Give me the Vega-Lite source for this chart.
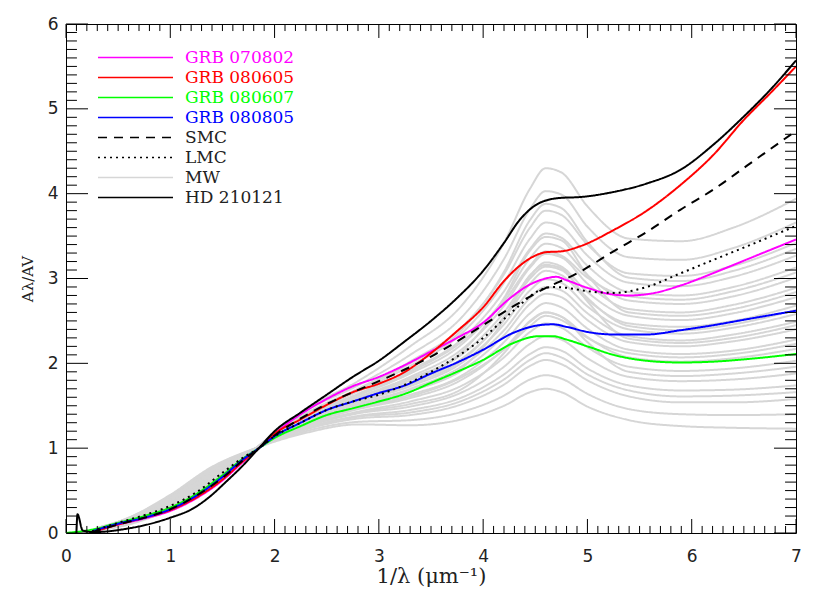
{
  "$schema": "https://vega.github.io/schema/vega-lite/v6.json",
  "width": 730,
  "height": 509,
  "autosize": {"type": "none"},
  "padding": {"left": 66, "top": 24, "right": 34, "bottom": 60},
  "background": "white",
  "config": {
    "view": {"stroke": "black", "strokeWidth": 1},
    "legend": {
      "title": null, "orient": "none", "legendX": 61, "legendY": 25,
      "symbolType": "M-5,0H5", "symbolSize": 225, "symbolStrokeWidth": 1.6,
      "labelFont": "DejaVu Serif", "labelFontSize": 17, "labelOffset": 41,
      "rowPadding": 2, "padding": 0, "labelLimit": 0
    }
  },
  "datasets": {
    "xmaj": [{"v":0},{"v":1},{"v":2},{"v":3},{"v":4},{"v":5},{"v":6},{"v":7}],
    "xmin": [{"v":0.1},{"v":0.2},{"v":0.3},{"v":0.4},{"v":0.5},{"v":0.6},{"v":0.7},{"v":0.8},{"v":0.9},{"v":1.1},{"v":1.2},{"v":1.3},{"v":1.4},{"v":1.5},{"v":1.6},{"v":1.7},{"v":1.8},{"v":1.9},{"v":2.1},{"v":2.2},{"v":2.3},{"v":2.4},{"v":2.5},{"v":2.6},{"v":2.7},{"v":2.8},{"v":2.9},{"v":3.1},{"v":3.2},{"v":3.3},{"v":3.4},{"v":3.5},{"v":3.6},{"v":3.7},{"v":3.8},{"v":3.9},{"v":4.1},{"v":4.2},{"v":4.3},{"v":4.4},{"v":4.5},{"v":4.6},{"v":4.7},{"v":4.8},{"v":4.9},{"v":5.1},{"v":5.2},{"v":5.3},{"v":5.4},{"v":5.5},{"v":5.6},{"v":5.7},{"v":5.8},{"v":5.9},{"v":6.1},{"v":6.2},{"v":6.3},{"v":6.4},{"v":6.5},{"v":6.6},{"v":6.7},{"v":6.8},{"v":6.9}],
    "ymaj": [{"v":0},{"v":1},{"v":2},{"v":3},{"v":4},{"v":5},{"v":6}],
    "ymin": [{"v":0.1},{"v":0.2},{"v":0.3},{"v":0.4},{"v":0.5},{"v":0.6},{"v":0.7},{"v":0.8},{"v":0.9},{"v":1.1},{"v":1.2},{"v":1.3},{"v":1.4},{"v":1.5},{"v":1.6},{"v":1.7},{"v":1.8},{"v":1.9},{"v":2.1},{"v":2.2},{"v":2.3},{"v":2.4},{"v":2.5},{"v":2.6},{"v":2.7},{"v":2.8},{"v":2.9},{"v":3.1},{"v":3.2},{"v":3.3},{"v":3.4},{"v":3.5},{"v":3.6},{"v":3.7},{"v":3.8},{"v":3.9},{"v":4.1},{"v":4.2},{"v":4.3},{"v":4.4},{"v":4.5},{"v":4.6},{"v":4.7},{"v":4.8},{"v":4.9},{"v":5.1},{"v":5.2},{"v":5.3},{"v":5.4},{"v":5.5},{"v":5.6},{"v":5.7},{"v":5.8},{"v":5.9}],
    "mw": [
      {"s":"MW","c":"m01","x":0.3,"y":0.03},{"s":"MW","c":"m01","x":0.6,"y":0.10},{"s":"MW","c":"m01","x":1.0,"y":0.28},{"s":"MW","c":"m01","x":1.4,"y":0.56},{"s":"MW","c":"m01","x":1.82,"y":1},{"s":"MW","c":"m01","x":2.3,"y":1.46},{"s":"MW","c":"m01","x":2.8,"y":1.79},{"s":"MW","c":"m01","x":3.3,"y":2.20},{"s":"MW","c":"m01","x":3.8,"y":2.69},{"s":"MW","c":"m01","x":4.2,"y":3.42},{"s":"MW","c":"m01","x":4.45,"y":4.06},{"s":"MW","c":"m01","x":4.6,"y":4.30},{"s":"MW","c":"m01","x":4.75,"y":4.25},{"s":"MW","c":"m01","x":5.0,"y":3.85},{"s":"MW","c":"m01","x":5.4,"y":3.47},{"s":"MW","c":"m01","x":5.9,"y":3.44},{"s":"MW","c":"m01","x":6.4,"y":3.60},{"s":"MW","c":"m01","x":7.0,"y":3.94},
      {"s":"MW","c":"m02","x":0.3,"y":0.03},{"s":"MW","c":"m02","x":0.6,"y":0.11},{"s":"MW","c":"m02","x":1.0,"y":0.30},{"s":"MW","c":"m02","x":1.4,"y":0.58},{"s":"MW","c":"m02","x":1.82,"y":1},{"s":"MW","c":"m02","x":2.3,"y":1.44},{"s":"MW","c":"m02","x":2.8,"y":1.74},{"s":"MW","c":"m02","x":3.3,"y":2.10},{"s":"MW","c":"m02","x":3.8,"y":2.55},{"s":"MW","c":"m02","x":4.2,"y":3.23},{"s":"MW","c":"m02","x":4.45,"y":3.82},{"s":"MW","c":"m02","x":4.6,"y":4.03},{"s":"MW","c":"m02","x":4.75,"y":3.99},{"s":"MW","c":"m02","x":5.0,"y":3.61},{"s":"MW","c":"m02","x":5.4,"y":3.25},{"s":"MW","c":"m02","x":5.9,"y":3.22},{"s":"MW","c":"m02","x":6.4,"y":3.36},{"s":"MW","c":"m02","x":7.0,"y":3.66},
      {"s":"MW","c":"m03","x":0.3,"y":0.04},{"s":"MW","c":"m03","x":0.6,"y":0.12},{"s":"MW","c":"m03","x":1.0,"y":0.31},{"s":"MW","c":"m03","x":1.4,"y":0.60},{"s":"MW","c":"m03","x":1.82,"y":1},{"s":"MW","c":"m03","x":2.3,"y":1.41},{"s":"MW","c":"m03","x":2.8,"y":1.70},{"s":"MW","c":"m03","x":3.3,"y":2.02},{"s":"MW","c":"m03","x":3.8,"y":2.43},{"s":"MW","c":"m03","x":4.2,"y":3.05},{"s":"MW","c":"m03","x":4.45,"y":3.60},{"s":"MW","c":"m03","x":4.6,"y":3.80},{"s":"MW","c":"m03","x":4.75,"y":3.75},{"s":"MW","c":"m03","x":5.0,"y":3.40},{"s":"MW","c":"m03","x":5.4,"y":3.06},{"s":"MW","c":"m03","x":5.9,"y":3.03},{"s":"MW","c":"m03","x":6.4,"y":3.15},{"s":"MW","c":"m03","x":7.0,"y":3.42},
      {"s":"MW","c":"a01","x":0.3,"y":0.04},{"s":"MW","c":"a01","x":0.6,"y":0.12},{"s":"MW","c":"a01","x":1.0,"y":0.32},{"s":"MW","c":"a01","x":1.4,"y":0.61},{"s":"MW","c":"a01","x":1.82,"y":1},{"s":"MW","c":"a01","x":2.3,"y":1.40},{"s":"MW","c":"a01","x":2.8,"y":1.69},{"s":"MW","c":"a01","x":3.3,"y":2.00},{"s":"MW","c":"a01","x":3.8,"y":2.40},{"s":"MW","c":"a01","x":4.2,"y":3.08},{"s":"MW","c":"a01","x":4.45,"y":3.69},{"s":"MW","c":"a01","x":4.6,"y":3.88},{"s":"MW","c":"a01","x":4.75,"y":3.83},{"s":"MW","c":"a01","x":5.0,"y":3.43},{"s":"MW","c":"a01","x":5.4,"y":3.01},{"s":"MW","c":"a01","x":5.9,"y":2.97},{"s":"MW","c":"a01","x":6.4,"y":3.09},{"s":"MW","c":"a01","x":7.0,"y":3.35},
      {"s":"MW","c":"m04","x":0.3,"y":0.04},{"s":"MW","c":"m04","x":0.6,"y":0.12},{"s":"MW","c":"m04","x":1.0,"y":0.32},{"s":"MW","c":"m04","x":1.4,"y":0.61},{"s":"MW","c":"m04","x":1.82,"y":1},{"s":"MW","c":"m04","x":2.3,"y":1.39},{"s":"MW","c":"m04","x":2.8,"y":1.67},{"s":"MW","c":"m04","x":3.3,"y":1.97},{"s":"MW","c":"m04","x":3.8,"y":2.36},{"s":"MW","c":"m04","x":4.2,"y":2.95},{"s":"MW","c":"m04","x":4.45,"y":3.47},{"s":"MW","c":"m04","x":4.6,"y":3.66},{"s":"MW","c":"m04","x":4.75,"y":3.61},{"s":"MW","c":"m04","x":5.0,"y":3.27},{"s":"MW","c":"m04","x":5.4,"y":2.95},{"s":"MW","c":"m04","x":5.9,"y":2.91},{"s":"MW","c":"m04","x":6.4,"y":3.02},{"s":"MW","c":"m04","x":7.0,"y":3.27},
      {"s":"MW","c":"m05","x":0.3,"y":0.04},{"s":"MW","c":"m05","x":0.6,"y":0.12},{"s":"MW","c":"m05","x":1.0,"y":0.33},{"s":"MW","c":"m05","x":1.4,"y":0.63},{"s":"MW","c":"m05","x":1.82,"y":1},{"s":"MW","c":"m05","x":2.3,"y":1.38},{"s":"MW","c":"m05","x":2.8,"y":1.64},{"s":"MW","c":"m05","x":3.3,"y":1.92},{"s":"MW","c":"m05","x":3.8,"y":2.29},{"s":"MW","c":"m05","x":4.2,"y":2.85},{"s":"MW","c":"m05","x":4.45,"y":3.35},{"s":"MW","c":"m05","x":4.6,"y":3.53},{"s":"MW","c":"m05","x":4.75,"y":3.48},{"s":"MW","c":"m05","x":5.0,"y":3.15},{"s":"MW","c":"m05","x":5.4,"y":2.84},{"s":"MW","c":"m05","x":5.9,"y":2.80},{"s":"MW","c":"m05","x":6.4,"y":2.90},{"s":"MW","c":"m05","x":7.0,"y":3.13},
      {"s":"MW","c":"a02","x":0.3,"y":0.04},{"s":"MW","c":"a02","x":0.6,"y":0.13},{"s":"MW","c":"a02","x":1.0,"y":0.34},{"s":"MW","c":"a02","x":1.4,"y":0.64},{"s":"MW","c":"a02","x":1.82,"y":1},{"s":"MW","c":"a02","x":2.3,"y":1.38},{"s":"MW","c":"a02","x":2.8,"y":1.63},{"s":"MW","c":"a02","x":3.3,"y":1.90},{"s":"MW","c":"a02","x":3.8,"y":2.26},{"s":"MW","c":"a02","x":4.2,"y":2.73},{"s":"MW","c":"a02","x":4.45,"y":3.15},{"s":"MW","c":"a02","x":4.6,"y":3.32},{"s":"MW","c":"a02","x":4.75,"y":3.27},{"s":"MW","c":"a02","x":5.0,"y":3.01},{"s":"MW","c":"a02","x":5.4,"y":2.79},{"s":"MW","c":"a02","x":5.9,"y":2.75},{"s":"MW","c":"a02","x":6.4,"y":2.85},{"s":"MW","c":"a02","x":7.0,"y":3.07},
      {"s":"MW","c":"m06","x":0.3,"y":0.04},{"s":"MW","c":"m06","x":0.6,"y":0.13},{"s":"MW","c":"m06","x":1.0,"y":0.34},{"s":"MW","c":"m06","x":1.4,"y":0.64},{"s":"MW","c":"m06","x":1.82,"y":1},{"s":"MW","c":"m06","x":2.3,"y":1.37},{"s":"MW","c":"m06","x":2.8,"y":1.62},{"s":"MW","c":"m06","x":3.3,"y":1.88},{"s":"MW","c":"m06","x":3.8,"y":2.23},{"s":"MW","c":"m06","x":4.2,"y":2.76},{"s":"MW","c":"m06","x":4.45,"y":3.24},{"s":"MW","c":"m06","x":4.6,"y":3.41},{"s":"MW","c":"m06","x":4.75,"y":3.36},{"s":"MW","c":"m06","x":5.0,"y":3.04},{"s":"MW","c":"m06","x":5.4,"y":2.74},{"s":"MW","c":"m06","x":5.9,"y":2.70},{"s":"MW","c":"m06","x":6.4,"y":2.79},{"s":"MW","c":"m06","x":7.0,"y":3.01},
      {"s":"MW","c":"m07","x":0.3,"y":0.04},{"s":"MW","c":"m07","x":0.6,"y":0.13},{"s":"MW","c":"m07","x":1.0,"y":0.35},{"s":"MW","c":"m07","x":1.4,"y":0.65},{"s":"MW","c":"m07","x":1.82,"y":1},{"s":"MW","c":"m07","x":2.3,"y":1.35},{"s":"MW","c":"m07","x":2.8,"y":1.60},{"s":"MW","c":"m07","x":3.3,"y":1.84},{"s":"MW","c":"m07","x":3.8,"y":2.17},{"s":"MW","c":"m07","x":4.2,"y":2.68},{"s":"MW","c":"m07","x":4.45,"y":3.13},{"s":"MW","c":"m07","x":4.6,"y":3.29},{"s":"MW","c":"m07","x":4.75,"y":3.25},{"s":"MW","c":"m07","x":5.0,"y":2.94},{"s":"MW","c":"m07","x":5.4,"y":2.64},{"s":"MW","c":"m07","x":5.9,"y":2.60},{"s":"MW","c":"m07","x":6.4,"y":2.69},{"s":"MW","c":"m07","x":7.0,"y":2.89},
      {"s":"MW","c":"a03","x":0.3,"y":0.04},{"s":"MW","c":"a03","x":0.6,"y":0.13},{"s":"MW","c":"a03","x":1.0,"y":0.35},{"s":"MW","c":"a03","x":1.4,"y":0.65},{"s":"MW","c":"a03","x":1.82,"y":1},{"s":"MW","c":"a03","x":2.3,"y":1.35},{"s":"MW","c":"a03","x":2.8,"y":1.59},{"s":"MW","c":"a03","x":3.3,"y":1.82},{"s":"MW","c":"a03","x":3.8,"y":2.14},{"s":"MW","c":"a03","x":4.2,"y":2.77},{"s":"MW","c":"a03","x":4.45,"y":3.33},{"s":"MW","c":"a03","x":4.6,"y":3.49},{"s":"MW","c":"a03","x":4.75,"y":3.45},{"s":"MW","c":"a03","x":5.0,"y":3.04},{"s":"MW","c":"a03","x":5.4,"y":2.60},{"s":"MW","c":"a03","x":5.9,"y":2.56},{"s":"MW","c":"a03","x":6.4,"y":2.64},{"s":"MW","c":"a03","x":7.0,"y":2.84},
      {"s":"MW","c":"m08","x":0.3,"y":0.04},{"s":"MW","c":"m08","x":0.6,"y":0.13},{"s":"MW","c":"m08","x":1.0,"y":0.35},{"s":"MW","c":"m08","x":1.4,"y":0.65},{"s":"MW","c":"m08","x":1.82,"y":1},{"s":"MW","c":"m08","x":2.3,"y":1.34},{"s":"MW","c":"m08","x":2.8,"y":1.57},{"s":"MW","c":"m08","x":3.3,"y":1.80},{"s":"MW","c":"m08","x":3.8,"y":2.11},{"s":"MW","c":"m08","x":4.2,"y":2.60},{"s":"MW","c":"m08","x":4.45,"y":3.03},{"s":"MW","c":"m08","x":4.6,"y":3.19},{"s":"MW","c":"m08","x":4.75,"y":3.14},{"s":"MW","c":"m08","x":5.0,"y":2.84},{"s":"MW","c":"m08","x":5.4,"y":2.56},{"s":"MW","c":"m08","x":5.9,"y":2.51},{"s":"MW","c":"m08","x":6.4,"y":2.59},{"s":"MW","c":"m08","x":7.0,"y":2.78},
      {"s":"MW","c":"m09","x":0.3,"y":0.04},{"s":"MW","c":"m09","x":0.6,"y":0.14},{"s":"MW","c":"m09","x":1.0,"y":0.36},{"s":"MW","c":"m09","x":1.4,"y":0.66},{"s":"MW","c":"m09","x":1.82,"y":1},{"s":"MW","c":"m09","x":2.3,"y":1.33},{"s":"MW","c":"m09","x":2.8,"y":1.56},{"s":"MW","c":"m09","x":3.3,"y":1.77},{"s":"MW","c":"m09","x":3.8,"y":2.06},{"s":"MW","c":"m09","x":4.2,"y":2.53},{"s":"MW","c":"m09","x":4.45,"y":2.94},{"s":"MW","c":"m09","x":4.6,"y":3.09},{"s":"MW","c":"m09","x":4.75,"y":3.04},{"s":"MW","c":"m09","x":5.0,"y":2.75},{"s":"MW","c":"m09","x":5.4,"y":2.47},{"s":"MW","c":"m09","x":5.9,"y":2.43},{"s":"MW","c":"m09","x":6.4,"y":2.50},{"s":"MW","c":"m09","x":7.0,"y":2.68},
      {"s":"MW","c":"a04","x":0.3,"y":0.05},{"s":"MW","c":"a04","x":0.6,"y":0.14},{"s":"MW","c":"a04","x":1.0,"y":0.37},{"s":"MW","c":"a04","x":1.4,"y":0.67},{"s":"MW","c":"a04","x":1.82,"y":1},{"s":"MW","c":"a04","x":2.3,"y":1.33},{"s":"MW","c":"a04","x":2.8,"y":1.55},{"s":"MW","c":"a04","x":3.3,"y":1.75},{"s":"MW","c":"a04","x":3.8,"y":2.04},{"s":"MW","c":"a04","x":4.2,"y":2.55},{"s":"MW","c":"a04","x":4.45,"y":3.00},{"s":"MW","c":"a04","x":4.6,"y":3.14},{"s":"MW","c":"a04","x":4.75,"y":3.10},{"s":"MW","c":"a04","x":5.0,"y":2.77},{"s":"MW","c":"a04","x":5.4,"y":2.44},{"s":"MW","c":"a04","x":5.9,"y":2.39},{"s":"MW","c":"a04","x":6.4,"y":2.46},{"s":"MW","c":"a04","x":7.0,"y":2.63},
      {"s":"MW","c":"m10","x":0.3,"y":0.05},{"s":"MW","c":"m10","x":0.6,"y":0.14},{"s":"MW","c":"m10","x":1.0,"y":0.37},{"s":"MW","c":"m10","x":1.4,"y":0.67},{"s":"MW","c":"m10","x":1.82,"y":1},{"s":"MW","c":"m10","x":2.3,"y":1.32},{"s":"MW","c":"m10","x":2.8,"y":1.54},{"s":"MW","c":"m10","x":3.3,"y":1.73},{"s":"MW","c":"m10","x":3.8,"y":2.01},{"s":"MW","c":"m10","x":4.2,"y":2.46},{"s":"MW","c":"m10","x":4.45,"y":2.86},{"s":"MW","c":"m10","x":4.6,"y":2.99},{"s":"MW","c":"m10","x":4.75,"y":2.95},{"s":"MW","c":"m10","x":5.0,"y":2.67},{"s":"MW","c":"m10","x":5.4,"y":2.40},{"s":"MW","c":"m10","x":5.9,"y":2.35},{"s":"MW","c":"m10","x":6.4,"y":2.42},{"s":"MW","c":"m10","x":7.0,"y":2.58},
      {"s":"MW","c":"m11","x":0.3,"y":0.05},{"s":"MW","c":"m11","x":0.6,"y":0.14},{"s":"MW","c":"m11","x":1.0,"y":0.37},{"s":"MW","c":"m11","x":1.4,"y":0.68},{"s":"MW","c":"m11","x":1.82,"y":1},{"s":"MW","c":"m11","x":2.3,"y":1.31},{"s":"MW","c":"m11","x":2.8,"y":1.52},{"s":"MW","c":"m11","x":3.3,"y":1.70},{"s":"MW","c":"m11","x":3.8,"y":1.97},{"s":"MW","c":"m11","x":4.2,"y":2.39},{"s":"MW","c":"m11","x":4.45,"y":2.77},{"s":"MW","c":"m11","x":4.6,"y":2.90},{"s":"MW","c":"m11","x":4.75,"y":2.86},{"s":"MW","c":"m11","x":5.0,"y":2.59},{"s":"MW","c":"m11","x":5.4,"y":2.32},{"s":"MW","c":"m11","x":5.9,"y":2.27},{"s":"MW","c":"m11","x":6.4,"y":2.34},{"s":"MW","c":"m11","x":7.0,"y":2.49},
      {"s":"MW","c":"a05","x":0.3,"y":0.05},{"s":"MW","c":"a05","x":0.6,"y":0.15},{"s":"MW","c":"a05","x":1.0,"y":0.38},{"s":"MW","c":"a05","x":1.4,"y":0.69},{"s":"MW","c":"a05","x":1.82,"y":1},{"s":"MW","c":"a05","x":2.3,"y":1.31},{"s":"MW","c":"a05","x":2.8,"y":1.51},{"s":"MW","c":"a05","x":3.3,"y":1.69},{"s":"MW","c":"a05","x":3.8,"y":1.95},{"s":"MW","c":"a05","x":4.2,"y":2.51},{"s":"MW","c":"a05","x":4.45,"y":3.04},{"s":"MW","c":"a05","x":4.6,"y":3.16},{"s":"MW","c":"a05","x":4.75,"y":3.12},{"s":"MW","c":"a05","x":5.0,"y":2.73},{"s":"MW","c":"a05","x":5.4,"y":2.29},{"s":"MW","c":"a05","x":5.9,"y":2.24},{"s":"MW","c":"a05","x":6.4,"y":2.30},{"s":"MW","c":"a05","x":7.0,"y":2.45},
      {"s":"MW","c":"m12","x":0.3,"y":0.05},{"s":"MW","c":"m12","x":0.6,"y":0.15},{"s":"MW","c":"m12","x":1.0,"y":0.38},{"s":"MW","c":"m12","x":1.4,"y":0.69},{"s":"MW","c":"m12","x":1.82,"y":1},{"s":"MW","c":"m12","x":2.3,"y":1.30},{"s":"MW","c":"m12","x":2.8,"y":1.50},{"s":"MW","c":"m12","x":3.3,"y":1.67},{"s":"MW","c":"m12","x":3.8,"y":1.92},{"s":"MW","c":"m12","x":4.2,"y":2.33},{"s":"MW","c":"m12","x":4.45,"y":2.70},{"s":"MW","c":"m12","x":4.6,"y":2.82},{"s":"MW","c":"m12","x":4.75,"y":2.78},{"s":"MW","c":"m12","x":5.0,"y":2.51},{"s":"MW","c":"m12","x":5.4,"y":2.25},{"s":"MW","c":"m12","x":5.9,"y":2.20},{"s":"MW","c":"m12","x":6.4,"y":2.26},{"s":"MW","c":"m12","x":7.0,"y":2.40},
      {"s":"MW","c":"m13","x":0.3,"y":0.05},{"s":"MW","c":"m13","x":0.6,"y":0.15},{"s":"MW","c":"m13","x":1.0,"y":0.38},{"s":"MW","c":"m13","x":1.4,"y":0.70},{"s":"MW","c":"m13","x":1.82,"y":1},{"s":"MW","c":"m13","x":2.3,"y":1.29},{"s":"MW","c":"m13","x":2.8,"y":1.48},{"s":"MW","c":"m13","x":3.3,"y":1.63},{"s":"MW","c":"m13","x":3.8,"y":1.86},{"s":"MW","c":"m13","x":4.2,"y":2.25},{"s":"MW","c":"m13","x":4.45,"y":2.59},{"s":"MW","c":"m13","x":4.6,"y":2.71},{"s":"MW","c":"m13","x":4.75,"y":2.66},{"s":"MW","c":"m13","x":5.0,"y":2.41},{"s":"MW","c":"m13","x":5.4,"y":2.16},{"s":"MW","c":"m13","x":5.9,"y":2.11},{"s":"MW","c":"m13","x":6.4,"y":2.15},{"s":"MW","c":"m13","x":7.0,"y":2.28},
      {"s":"MW","c":"a06","x":0.3,"y":0.05},{"s":"MW","c":"a06","x":0.6,"y":0.15},{"s":"MW","c":"a06","x":1.0,"y":0.39},{"s":"MW","c":"a06","x":1.4,"y":0.70},{"s":"MW","c":"a06","x":1.82,"y":1},{"s":"MW","c":"a06","x":2.3,"y":1.29},{"s":"MW","c":"a06","x":2.8,"y":1.47},{"s":"MW","c":"a06","x":3.3,"y":1.61},{"s":"MW","c":"a06","x":3.8,"y":1.84},{"s":"MW","c":"a06","x":4.2,"y":2.16},{"s":"MW","c":"a06","x":4.45,"y":2.44},{"s":"MW","c":"a06","x":4.6,"y":2.56},{"s":"MW","c":"a06","x":4.75,"y":2.51},{"s":"MW","c":"a06","x":5.0,"y":2.30},{"s":"MW","c":"a06","x":5.4,"y":2.12},{"s":"MW","c":"a06","x":5.9,"y":2.07},{"s":"MW","c":"a06","x":6.4,"y":2.11},{"s":"MW","c":"a06","x":7.0,"y":2.23},
      {"s":"MW","c":"m14","x":0.3,"y":0.05},{"s":"MW","c":"m14","x":0.6,"y":0.15},{"s":"MW","c":"m14","x":1.0,"y":0.39},{"s":"MW","c":"m14","x":1.4,"y":0.70},{"s":"MW","c":"m14","x":1.82,"y":1},{"s":"MW","c":"m14","x":2.3,"y":1.28},{"s":"MW","c":"m14","x":2.8,"y":1.46},{"s":"MW","c":"m14","x":3.3,"y":1.59},{"s":"MW","c":"m14","x":3.8,"y":1.81},{"s":"MW","c":"m14","x":4.2,"y":2.17},{"s":"MW","c":"m14","x":4.45,"y":2.49},{"s":"MW","c":"m14","x":4.6,"y":2.60},{"s":"MW","c":"m14","x":4.75,"y":2.55},{"s":"MW","c":"m14","x":5.0,"y":2.31},{"s":"MW","c":"m14","x":5.4,"y":2.07},{"s":"MW","c":"m14","x":5.9,"y":2.02},{"s":"MW","c":"m14","x":6.4,"y":2.06},{"s":"MW","c":"m14","x":7.0,"y":2.17},
      {"s":"MW","c":"m15","x":0.3,"y":0.05},{"s":"MW","c":"m15","x":0.6,"y":0.16},{"s":"MW","c":"m15","x":1.0,"y":0.40},{"s":"MW","c":"m15","x":1.4,"y":0.72},{"s":"MW","c":"m15","x":1.82,"y":1},{"s":"MW","c":"m15","x":2.3,"y":1.27},{"s":"MW","c":"m15","x":2.8,"y":1.43},{"s":"MW","c":"m15","x":3.3,"y":1.55},{"s":"MW","c":"m15","x":3.8,"y":1.74},{"s":"MW","c":"m15","x":4.2,"y":2.07},{"s":"MW","c":"m15","x":4.45,"y":2.37},{"s":"MW","c":"m15","x":4.6,"y":2.47},{"s":"MW","c":"m15","x":4.75,"y":2.42},{"s":"MW","c":"m15","x":5.0,"y":2.19},{"s":"MW","c":"m15","x":5.4,"y":1.96},{"s":"MW","c":"m15","x":5.9,"y":1.91},{"s":"MW","c":"m15","x":6.4,"y":1.94},{"s":"MW","c":"m15","x":7.0,"y":2.03},
      {"s":"MW","c":"a07","x":0.3,"y":0.05},{"s":"MW","c":"a07","x":0.6,"y":0.16},{"s":"MW","c":"a07","x":1.0,"y":0.41},{"s":"MW","c":"a07","x":1.4,"y":0.73},{"s":"MW","c":"a07","x":1.82,"y":1},{"s":"MW","c":"a07","x":2.3,"y":1.26},{"s":"MW","c":"a07","x":2.8,"y":1.42},{"s":"MW","c":"a07","x":3.3,"y":1.52},{"s":"MW","c":"a07","x":3.8,"y":1.70},{"s":"MW","c":"a07","x":4.2,"y":2.12},{"s":"MW","c":"a07","x":4.45,"y":2.50},{"s":"MW","c":"a07","x":4.6,"y":2.60},{"s":"MW","c":"a07","x":4.75,"y":2.55},{"s":"MW","c":"a07","x":5.0,"y":2.25},{"s":"MW","c":"a07","x":5.4,"y":1.90},{"s":"MW","c":"a07","x":5.9,"y":1.85},{"s":"MW","c":"a07","x":6.4,"y":1.88},{"s":"MW","c":"a07","x":7.0,"y":1.96},
      {"s":"MW","c":"m16","x":0.3,"y":0.05},{"s":"MW","c":"m16","x":0.6,"y":0.16},{"s":"MW","c":"m16","x":1.0,"y":0.41},{"s":"MW","c":"m16","x":1.4,"y":0.73},{"s":"MW","c":"m16","x":1.82,"y":1},{"s":"MW","c":"m16","x":2.3,"y":1.25},{"s":"MW","c":"m16","x":2.8,"y":1.41},{"s":"MW","c":"m16","x":3.3,"y":1.49},{"s":"MW","c":"m16","x":3.8,"y":1.66},{"s":"MW","c":"m16","x":4.2,"y":1.96},{"s":"MW","c":"m16","x":4.45,"y":2.23},{"s":"MW","c":"m16","x":4.6,"y":2.32},{"s":"MW","c":"m16","x":4.75,"y":2.28},{"s":"MW","c":"m16","x":5.0,"y":2.06},{"s":"MW","c":"m16","x":5.4,"y":1.84},{"s":"MW","c":"m16","x":5.9,"y":1.79},{"s":"MW","c":"m16","x":6.4,"y":1.81},{"s":"MW","c":"m16","x":7.0,"y":1.88},
      {"s":"MW","c":"m17","x":0.3,"y":0.05},{"s":"MW","c":"m17","x":0.6,"y":0.16},{"s":"MW","c":"m17","x":1.0,"y":0.42},{"s":"MW","c":"m17","x":1.4,"y":0.74},{"s":"MW","c":"m17","x":1.82,"y":1},{"s":"MW","c":"m17","x":2.3,"y":1.24},{"s":"MW","c":"m17","x":2.8,"y":1.38},{"s":"MW","c":"m17","x":3.3,"y":1.45},{"s":"MW","c":"m17","x":3.8,"y":1.60},{"s":"MW","c":"m17","x":4.2,"y":1.87},{"s":"MW","c":"m17","x":4.45,"y":2.11},{"s":"MW","c":"m17","x":4.6,"y":2.19},{"s":"MW","c":"m17","x":4.75,"y":2.15},{"s":"MW","c":"m17","x":5.0,"y":1.94},{"s":"MW","c":"m17","x":5.4,"y":1.74},{"s":"MW","c":"m17","x":5.9,"y":1.68},{"s":"MW","c":"m17","x":6.4,"y":1.69},{"s":"MW","c":"m17","x":7.0,"y":1.74},
      {"s":"MW","c":"a08","x":0.3,"y":0.06},{"s":"MW","c":"a08","x":0.6,"y":0.17},{"s":"MW","c":"a08","x":1.0,"y":0.43},{"s":"MW","c":"a08","x":1.4,"y":0.75},{"s":"MW","c":"a08","x":1.82,"y":1},{"s":"MW","c":"a08","x":2.3,"y":1.23},{"s":"MW","c":"a08","x":2.8,"y":1.37},{"s":"MW","c":"a08","x":3.3,"y":1.42},{"s":"MW","c":"a08","x":3.8,"y":1.56},{"s":"MW","c":"a08","x":4.2,"y":1.81},{"s":"MW","c":"a08","x":4.45,"y":2.04},{"s":"MW","c":"a08","x":4.6,"y":2.12},{"s":"MW","c":"a08","x":4.75,"y":2.07},{"s":"MW","c":"a08","x":5.0,"y":1.87},{"s":"MW","c":"a08","x":5.4,"y":1.68},{"s":"MW","c":"a08","x":5.9,"y":1.61},{"s":"MW","c":"a08","x":6.4,"y":1.62},{"s":"MW","c":"a08","x":7.0,"y":1.66},
      {"s":"MW","c":"m18","x":0.3,"y":0.06},{"s":"MW","c":"m18","x":0.6,"y":0.17},{"s":"MW","c":"m18","x":1.0,"y":0.43},{"s":"MW","c":"m18","x":1.4,"y":0.75},{"s":"MW","c":"m18","x":1.82,"y":1},{"s":"MW","c":"m18","x":2.3,"y":1.22},{"s":"MW","c":"m18","x":2.8,"y":1.35},{"s":"MW","c":"m18","x":3.3,"y":1.39},{"s":"MW","c":"m18","x":3.8,"y":1.52},{"s":"MW","c":"m18","x":4.2,"y":1.75},{"s":"MW","c":"m18","x":4.45,"y":1.97},{"s":"MW","c":"m18","x":4.6,"y":2.04},{"s":"MW","c":"m18","x":4.75,"y":1.99},{"s":"MW","c":"m18","x":5.0,"y":1.80},{"s":"MW","c":"m18","x":5.4,"y":1.61},{"s":"MW","c":"m18","x":5.9,"y":1.54},{"s":"MW","c":"m18","x":6.4,"y":1.54},{"s":"MW","c":"m18","x":7.0,"y":1.58},
      {"s":"MW","c":"m19","x":0.3,"y":0.06},{"s":"MW","c":"m19","x":0.6,"y":0.18},{"s":"MW","c":"m19","x":1.0,"y":0.44},{"s":"MW","c":"m19","x":1.4,"y":0.77},{"s":"MW","c":"m19","x":1.82,"y":1},{"s":"MW","c":"m19","x":2.3,"y":1.20},{"s":"MW","c":"m19","x":2.8,"y":1.31},{"s":"MW","c":"m19","x":3.3,"y":1.33},{"s":"MW","c":"m19","x":3.8,"y":1.43},{"s":"MW","c":"m19","x":4.2,"y":1.62},{"s":"MW","c":"m19","x":4.45,"y":1.81},{"s":"MW","c":"m19","x":4.6,"y":1.86},{"s":"MW","c":"m19","x":4.75,"y":1.82},{"s":"MW","c":"m19","x":5.0,"y":1.64},{"s":"MW","c":"m19","x":5.4,"y":1.46},{"s":"MW","c":"m19","x":5.9,"y":1.40},{"s":"MW","c":"m19","x":6.4,"y":1.39},{"s":"MW","c":"m19","x":7.0,"y":1.40},
      {"s":"MW","c":"m20","x":0.3,"y":0.06},{"s":"MW","c":"m20","x":0.6,"y":0.18},{"s":"MW","c":"m20","x":1.0,"y":0.45},{"s":"MW","c":"m20","x":1.4,"y":0.78},{"s":"MW","c":"m20","x":1.82,"y":1},{"s":"MW","c":"m20","x":2.3,"y":1.18},{"s":"MW","c":"m20","x":2.8,"y":1.28},{"s":"MW","c":"m20","x":3.3,"y":1.27},{"s":"MW","c":"m20","x":3.8,"y":1.34},{"s":"MW","c":"m20","x":4.2,"y":1.50},{"s":"MW","c":"m20","x":4.45,"y":1.66},{"s":"MW","c":"m20","x":4.6,"y":1.70},{"s":"MW","c":"m20","x":4.75,"y":1.66},{"s":"MW","c":"m20","x":5.0,"y":1.49},{"s":"MW","c":"m20","x":5.4,"y":1.33},{"s":"MW","c":"m20","x":5.9,"y":1.26},{"s":"MW","c":"m20","x":6.4,"y":1.24},{"s":"MW","c":"m20","x":7.0,"y":1.23}
    ],
    "ext": [
      {"s":"GRB 070802","x":0.25,"y":0.01},{"s":"GRB 070802","x":0.5,"y":0.10},{"s":"GRB 070802","x":0.75,"y":0.17},{"s":"GRB 070802","x":1.0,"y":0.26},{"s":"GRB 070802","x":1.25,"y":0.41},{"s":"GRB 070802","x":1.5,"y":0.62},{"s":"GRB 070802","x":1.7,"y":0.84},{"s":"GRB 070802","x":1.85,"y":1.0},{"s":"GRB 070802","x":2.0,"y":1.17},{"s":"GRB 070802","x":2.25,"y":1.40},{"s":"GRB 070802","x":2.5,"y":1.58},{"s":"GRB 070802","x":2.75,"y":1.73},{"s":"GRB 070802","x":3.0,"y":1.84},{"s":"GRB 070802","x":3.25,"y":1.98},{"s":"GRB 070802","x":3.5,"y":2.14},{"s":"GRB 070802","x":3.75,"y":2.30},{"s":"GRB 070802","x":4.0,"y":2.48},{"s":"GRB 070802","x":4.25,"y":2.76},{"s":"GRB 070802","x":4.45,"y":2.93},{"s":"GRB 070802","x":4.6,"y":3.00},{"s":"GRB 070802","x":4.7,"y":3.02},{"s":"GRB 070802","x":4.8,"y":2.98},{"s":"GRB 070802","x":5.0,"y":2.89},{"s":"GRB 070802","x":5.25,"y":2.81},{"s":"GRB 070802","x":5.4,"y":2.80},{"s":"GRB 070802","x":5.6,"y":2.82},{"s":"GRB 070802","x":5.9,"y":2.92},{"s":"GRB 070802","x":6.2,"y":3.06},{"s":"GRB 070802","x":6.5,"y":3.21},{"s":"GRB 070802","x":7.0,"y":3.46},
      {"s":"GRB 080605","x":0.25,"y":0.01},{"s":"GRB 080605","x":0.5,"y":0.10},{"s":"GRB 080605","x":0.75,"y":0.18},{"s":"GRB 080605","x":1.0,"y":0.27},{"s":"GRB 080605","x":1.25,"y":0.42},{"s":"GRB 080605","x":1.5,"y":0.63},{"s":"GRB 080605","x":1.7,"y":0.85},{"s":"GRB 080605","x":1.85,"y":1.0},{"s":"GRB 080605","x":2.0,"y":1.17},{"s":"GRB 080605","x":2.25,"y":1.34},{"s":"GRB 080605","x":2.5,"y":1.51},{"s":"GRB 080605","x":2.75,"y":1.66},{"s":"GRB 080605","x":3.0,"y":1.76},{"s":"GRB 080605","x":3.25,"y":1.90},{"s":"GRB 080605","x":3.5,"y":2.12},{"s":"GRB 080605","x":3.75,"y":2.38},{"s":"GRB 080605","x":4.0,"y":2.66},{"s":"GRB 080605","x":4.2,"y":2.97},{"s":"GRB 080605","x":4.35,"y":3.15},{"s":"GRB 080605","x":4.5,"y":3.27},{"s":"GRB 080605","x":4.6,"y":3.31},{"s":"GRB 080605","x":4.75,"y":3.32},{"s":"GRB 080605","x":4.93,"y":3.38},{"s":"GRB 080605","x":5.25,"y":3.57},{"s":"GRB 080605","x":5.57,"y":3.80},{"s":"GRB 080605","x":5.89,"y":4.10},{"s":"GRB 080605","x":6.21,"y":4.46},{"s":"GRB 080605","x":6.5,"y":4.87},{"s":"GRB 080605","x":6.75,"y":5.18},{"s":"GRB 080605","x":7.0,"y":5.50},
      {"s":"GRB 080607","x":0.0,"y":0.0},{"s":"GRB 080607","x":0.25,"y":0.04},{"s":"GRB 080607","x":0.5,"y":0.12},{"s":"GRB 080607","x":0.75,"y":0.20},{"s":"GRB 080607","x":1.0,"y":0.30},{"s":"GRB 080607","x":1.25,"y":0.46},{"s":"GRB 080607","x":1.5,"y":0.68},{"s":"GRB 080607","x":1.7,"y":0.88},{"s":"GRB 080607","x":1.85,"y":1.0},{"s":"GRB 080607","x":2.0,"y":1.12},{"s":"GRB 080607","x":2.25,"y":1.26},{"s":"GRB 080607","x":2.5,"y":1.39},{"s":"GRB 080607","x":2.75,"y":1.47},{"s":"GRB 080607","x":3.0,"y":1.55},{"s":"GRB 080607","x":3.25,"y":1.64},{"s":"GRB 080607","x":3.5,"y":1.77},{"s":"GRB 080607","x":3.75,"y":1.90},{"s":"GRB 080607","x":4.0,"y":2.04},{"s":"GRB 080607","x":4.29,"y":2.24},{"s":"GRB 080607","x":4.54,"y":2.32},{"s":"GRB 080607","x":4.67,"y":2.32},{"s":"GRB 080607","x":4.8,"y":2.28},{"s":"GRB 080607","x":5.0,"y":2.20},{"s":"GRB 080607","x":5.25,"y":2.10},{"s":"GRB 080607","x":5.57,"y":2.03},{"s":"GRB 080607","x":5.89,"y":2.01},{"s":"GRB 080607","x":6.21,"y":2.02},{"s":"GRB 080607","x":6.53,"y":2.05},{"s":"GRB 080607","x":7.0,"y":2.11},
      {"s":"GRB 080805","x":0.25,"y":0.02},{"s":"GRB 080805","x":0.5,"y":0.11},{"s":"GRB 080805","x":0.75,"y":0.18},{"s":"GRB 080805","x":1.0,"y":0.28},{"s":"GRB 080805","x":1.25,"y":0.44},{"s":"GRB 080805","x":1.5,"y":0.66},{"s":"GRB 080805","x":1.7,"y":0.87},{"s":"GRB 080805","x":1.85,"y":1.0},{"s":"GRB 080805","x":2.0,"y":1.14},{"s":"GRB 080805","x":2.25,"y":1.30},{"s":"GRB 080805","x":2.5,"y":1.45},{"s":"GRB 080805","x":2.75,"y":1.55},{"s":"GRB 080805","x":3.0,"y":1.65},{"s":"GRB 080805","x":3.25,"y":1.74},{"s":"GRB 080805","x":3.5,"y":1.88},{"s":"GRB 080805","x":3.75,"y":2.01},{"s":"GRB 080805","x":4.0,"y":2.16},{"s":"GRB 080805","x":4.29,"y":2.36},{"s":"GRB 080805","x":4.54,"y":2.45},{"s":"GRB 080805","x":4.67,"y":2.46},{"s":"GRB 080805","x":4.8,"y":2.43},{"s":"GRB 080805","x":5.0,"y":2.37},{"s":"GRB 080805","x":5.25,"y":2.34},{"s":"GRB 080805","x":5.57,"y":2.34},{"s":"GRB 080805","x":5.89,"y":2.39},{"s":"GRB 080805","x":6.21,"y":2.45},{"s":"GRB 080805","x":6.53,"y":2.52},{"s":"GRB 080805","x":7.0,"y":2.62},
      {"s":"SMC","x":0.25,"y":0.01},{"s":"SMC","x":0.5,"y":0.10},{"s":"SMC","x":0.75,"y":0.18},{"s":"SMC","x":1.0,"y":0.28},{"s":"SMC","x":1.25,"y":0.44},{"s":"SMC","x":1.5,"y":0.65},{"s":"SMC","x":1.7,"y":0.86},{"s":"SMC","x":1.85,"y":1.0},{"s":"SMC","x":2.0,"y":1.15},{"s":"SMC","x":2.25,"y":1.35},{"s":"SMC","x":2.5,"y":1.52},{"s":"SMC","x":2.75,"y":1.66},{"s":"SMC","x":3.0,"y":1.79},{"s":"SMC","x":3.5,"y":2.08},{"s":"SMC","x":4.0,"y":2.45},{"s":"SMC","x":4.26,"y":2.65},{"s":"SMC","x":4.54,"y":2.85},{"s":"SMC","x":4.93,"y":3.08},{"s":"SMC","x":5.25,"y":3.32},{"s":"SMC","x":5.57,"y":3.55},{"s":"SMC","x":5.89,"y":3.81},{"s":"SMC","x":6.21,"y":4.05},{"s":"SMC","x":6.53,"y":4.33},{"s":"SMC","x":7.0,"y":4.74},
      {"s":"LMC","x":0.25,"y":0.02},{"s":"LMC","x":0.5,"y":0.12},{"s":"LMC","x":0.75,"y":0.21},{"s":"LMC","x":1.0,"y":0.32},{"s":"LMC","x":1.25,"y":0.48},{"s":"LMC","x":1.5,"y":0.71},{"s":"LMC","x":1.7,"y":0.89},{"s":"LMC","x":1.85,"y":1.0},{"s":"LMC","x":2.0,"y":1.14},{"s":"LMC","x":2.25,"y":1.30},{"s":"LMC","x":2.5,"y":1.45},{"s":"LMC","x":2.75,"y":1.55},{"s":"LMC","x":3.0,"y":1.63},{"s":"LMC","x":3.5,"y":1.90},{"s":"LMC","x":4.0,"y":2.30},{"s":"LMC","x":4.29,"y":2.62},{"s":"LMC","x":4.54,"y":2.86},{"s":"LMC","x":4.67,"y":2.90},{"s":"LMC","x":4.8,"y":2.89},{"s":"LMC","x":5.0,"y":2.85},{"s":"LMC","x":5.25,"y":2.83},{"s":"LMC","x":5.57,"y":2.90},{"s":"LMC","x":5.89,"y":3.06},{"s":"LMC","x":6.21,"y":3.22},{"s":"LMC","x":6.53,"y":3.38},{"s":"LMC","x":7.0,"y":3.62},
      {"s":"HD 210121","x":0.10,"y":0.0},{"s":"HD 210121","x":0.11,"y":0.22},{"s":"HD 210121","x":0.16,"y":0.03},{"s":"HD 210121","x":0.26,"y":0.01},{"s":"HD 210121","x":0.58,"y":0.05},{"s":"HD 210121","x":0.9,"y":0.14},{"s":"HD 210121","x":1.0,"y":0.18},{"s":"HD 210121","x":1.22,"y":0.29},{"s":"HD 210121","x":1.38,"y":0.43},{"s":"HD 210121","x":1.54,"y":0.61},{"s":"HD 210121","x":1.7,"y":0.80},{"s":"HD 210121","x":1.85,"y":1.0},{"s":"HD 210121","x":2.0,"y":1.20},{"s":"HD 210121","x":2.25,"y":1.42},{"s":"HD 210121","x":2.5,"y":1.63},{"s":"HD 210121","x":2.75,"y":1.84},{"s":"HD 210121","x":3.0,"y":2.03},{"s":"HD 210121","x":3.25,"y":2.26},{"s":"HD 210121","x":3.5,"y":2.50},{"s":"HD 210121","x":3.75,"y":2.77},{"s":"HD 210121","x":4.0,"y":3.09},{"s":"HD 210121","x":4.2,"y":3.42},{"s":"HD 210121","x":4.35,"y":3.69},{"s":"HD 210121","x":4.54,"y":3.89},{"s":"HD 210121","x":4.74,"y":3.95},{"s":"HD 210121","x":4.93,"y":3.96},{"s":"HD 210121","x":5.25,"y":4.02},{"s":"HD 210121","x":5.57,"y":4.12},{"s":"HD 210121","x":5.89,"y":4.28},{"s":"HD 210121","x":6.21,"y":4.58},{"s":"HD 210121","x":6.5,"y":4.91},{"s":"HD 210121","x":6.75,"y":5.22},{"s":"HD 210121","x":7.0,"y":5.57}
    ]
  },
  "layer": [
    {
      "data": {"name": "mw"},
      "mark": {"type": "line", "interpolate": "monotone", "strokeWidth": 2, "clip": true},
      "encoding": {
        "detail": {"field": "c"},
        "color": {
          "field": "s", "type": "nominal",
          "scale": {
            "domain": ["GRB 070802", "GRB 080605", "GRB 080607", "GRB 080805", "SMC", "LMC", "MW", "HD 210121"],
            "range": ["#ff00ff", "#ff0000", "#00ff00", "#0000ff", "#000000", "#000000", "#d6d6d6", "#000000"]
          },
          "legend": {
            "encode": {"labels": {"update": {"fill": {"signal": "indexof(['GRB 070802','GRB 080605','GRB 080607','GRB 080805'], datum.value) >= 0 ? scale('color', datum.value) : '#222222'"}}}}
          }
        },
        "strokeDash": {
          "field": "s", "type": "nominal",
          "scale": {
            "domain": ["GRB 070802", "GRB 080605", "GRB 080607", "GRB 080805", "SMC", "LMC", "MW", "HD 210121"],
            "range": [[1, 0], [1, 0], [1, 0], [1, 0], [9, 7], [2, 4], [1, 0], [1, 0]]
          }
        },
        "x": {
          "field": "x", "type": "quantitative",
          "scale": {"domain": [0, 7], "nice": false, "zero": false},
          "axis": {
            "orient": "bottom", "ticks": false, "domain": false, "grid": false,
            "labelFont": "DejaVu Sans", "labelFontSize": 17, "labelColor": "#222222", "labelPadding": 15, "labelFlush": false,
            "title": "1/λ (μm⁻¹)", "titleFont": "DejaVu Serif", "titleFontWeight": "normal", "titleColor": "#222222", "titleFontSize": 21,
            "titleY": 49, "titleBaseline": "alphabetic",
            "values": [0, 1, 2, 3, 4, 5, 6, 7], "format": "d"
          }
        },
        "y": {
          "field": "y", "type": "quantitative",
          "scale": {"domain": [0, 6], "nice": false, "zero": false},
          "axis": {
            "orient": "left", "ticks": false, "domain": false, "grid": false,
            "labelFont": "DejaVu Sans", "labelFontSize": 17, "labelColor": "#222222", "labelPadding": 8, "labelFlush": false,
            "title": "Aλ/AV", "titleFont": "DejaVu Serif", "titleFontWeight": "normal", "titleColor": "#222222", "titleFontSize": 15,
            "titleX": -39, "titleBaseline": "middle",
            "values": [0, 1, 2, 3, 4, 5, 6], "format": "d"
          }
        }
      }
    },
    {
      "data": {"name": "ext"},
      "mark": {"type": "line", "interpolate": "monotone", "strokeWidth": 2, "clip": true},
      "encoding": {
        "color": {
          "field": "s", "type": "nominal",
          "scale": {
            "domain": ["GRB 070802", "GRB 080605", "GRB 080607", "GRB 080805", "SMC", "LMC", "MW", "HD 210121"],
            "range": ["#ff00ff", "#ff0000", "#00ff00", "#0000ff", "#000000", "#000000", "#d6d6d6", "#000000"]
          },
          "legend": {
            "encode": {"labels": {"update": {"fill": {"signal": "indexof(['GRB 070802','GRB 080605','GRB 080607','GRB 080805'], datum.value) >= 0 ? scale('color', datum.value) : '#222222'"}}}}
          }
        },
        "strokeDash": {
          "field": "s", "type": "nominal",
          "scale": {
            "domain": ["GRB 070802", "GRB 080605", "GRB 080607", "GRB 080805", "SMC", "LMC", "MW", "HD 210121"],
            "range": [[1, 0], [1, 0], [1, 0], [1, 0], [9, 7], [2, 4], [1, 0], [1, 0]]
          }
        },
        "x": {"field": "x", "type": "quantitative", "scale": {"domain": [0, 7], "nice": false, "zero": false}, "axis": null},
        "y": {"field": "y", "type": "quantitative", "scale": {"domain": [0, 6], "nice": false, "zero": false}, "axis": null}
      }
    },
    {
      "data": {"name": "xmaj"},
      "mark": {"type": "rule", "color": "black", "strokeWidth": 1},
      "encoding": {
        "x": {"field": "v", "type": "quantitative", "axis": null},
        "y": {"datum": 0, "type": "quantitative", "axis": null},
        "y2": {"datum": 0.165}
      }
    },
    {
      "data": {"name": "xmin"},
      "mark": {"type": "rule", "color": "black", "strokeWidth": 1},
      "encoding": {
        "x": {"field": "v", "type": "quantitative", "axis": null},
        "y": {"datum": 0, "type": "quantitative", "axis": null},
        "y2": {"datum": 0.083}
      }
    },
    {
      "data": {"name": "xmaj"},
      "mark": {"type": "rule", "color": "black", "strokeWidth": 1},
      "encoding": {
        "x": {"field": "v", "type": "quantitative", "axis": null},
        "y": {"datum": 6, "type": "quantitative", "axis": null},
        "y2": {"datum": 5.835}
      }
    },
    {
      "data": {"name": "xmin"},
      "mark": {"type": "rule", "color": "black", "strokeWidth": 1},
      "encoding": {
        "x": {"field": "v", "type": "quantitative", "axis": null},
        "y": {"datum": 6, "type": "quantitative", "axis": null},
        "y2": {"datum": 5.917}
      }
    },
    {
      "data": {"name": "ymaj"},
      "mark": {"type": "rule", "color": "black", "strokeWidth": 1},
      "encoding": {
        "y": {"field": "v", "type": "quantitative", "axis": null},
        "x": {"datum": 0, "type": "quantitative", "axis": null},
        "x2": {"datum": 0.211}
      }
    },
    {
      "data": {"name": "ymin"},
      "mark": {"type": "rule", "color": "black", "strokeWidth": 1},
      "encoding": {
        "y": {"field": "v", "type": "quantitative", "axis": null},
        "x": {"datum": 0, "type": "quantitative", "axis": null},
        "x2": {"datum": 0.105}
      }
    },
    {
      "data": {"name": "ymaj"},
      "mark": {"type": "rule", "color": "black", "strokeWidth": 1},
      "encoding": {
        "y": {"field": "v", "type": "quantitative", "axis": null},
        "x": {"datum": 7, "type": "quantitative", "axis": null},
        "x2": {"datum": 6.789}
      }
    },
    {
      "data": {"name": "ymin"},
      "mark": {"type": "rule", "color": "black", "strokeWidth": 1},
      "encoding": {
        "y": {"field": "v", "type": "quantitative", "axis": null},
        "x": {"datum": 7, "type": "quantitative", "axis": null},
        "x2": {"datum": 6.895}
      }
    }
  ],
  "resolve": {"axis": {"x": "independent", "y": "independent"}}
}
